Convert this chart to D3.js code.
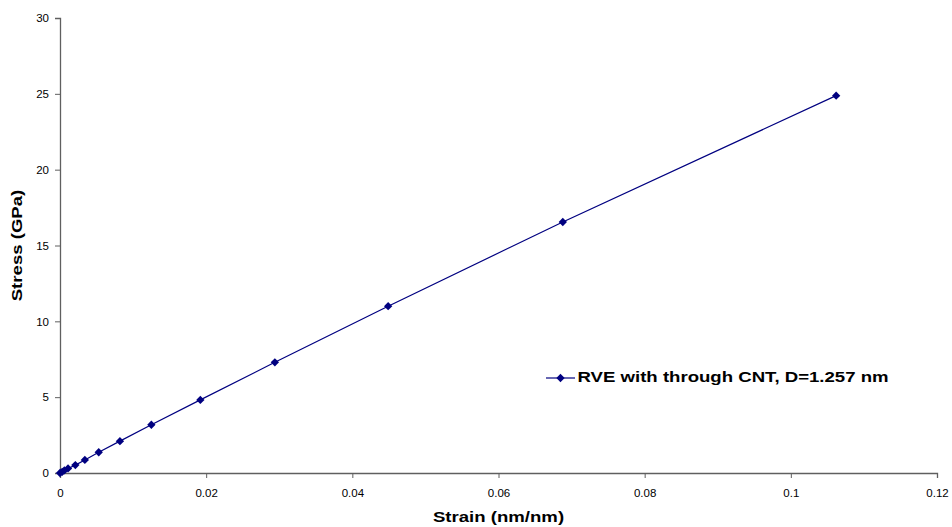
<!DOCTYPE html>
<html>
<head>
<meta charset="utf-8">
<script src="https://cdn.jsdelivr.net/npm/d3@7"></script>
<style>
  html, body { margin: 0; padding: 0; background: #fff; }
  svg { display: block; font-family: "Liberation Sans", Arial, sans-serif; }
</style>
</head>
<body>
<svg id="chart" width="952" height="527"></svg>
<script>
// Stress-strain response of the RVE
const strain = [0, 0.0003, 0.0006, 0.0011, 0.0021, 0.0034, 0.0053, 0.0082, 0.0125, 0.0192, 0.0294, 0.0449, 0.0688, 0.1062];
const stress = [0, 0.08, 0.17, 0.30, 0.52, 0.86, 1.37, 2.10, 3.18, 4.82, 7.30, 11.00, 16.55, 24.88];
const xTicks = [0, 0.02, 0.04, 0.06, 0.08, 0.1, 0.12];
const yTicks = [0, 5, 10, 15, 20, 25, 30];
const seriesName = "RVE with through CNT, D=1.257 nm";
const xTitle = "Strain (nm/nm)";
const yTitle = "Stress (GPa)";

const points = strain.map((s, i) => ({ x: s, y: stress[i] }));

const svg = d3.select("#chart");
const plotLeft = 60, plotRight = 937, plotTop = 18, plotBottom = 473;

const x = d3.scaleLinear().domain([0, 0.12]).range([plotLeft, plotRight]);
const y = d3.scaleLinear().domain([0, 30]).range([plotBottom, plotTop]);

const axisColor = "#5f5f5f";

const xAxis = svg.append("g")
  .attr("transform", `translate(0,${plotBottom})`)
  .call(d3.axisBottom(x).tickValues(xTicks).tickSize(5).tickPadding(11)
    .tickFormat(d => d3.format("~g")(d)));
const yAxis = svg.append("g")
  .attr("transform", `translate(${plotLeft},0)`)
  .call(d3.axisLeft(y).tickValues(yTicks).tickSize(5).tickPadding(6));

[xAxis, yAxis].forEach(g => {
  g.select(".domain").attr("stroke", axisColor).attr("stroke-width", 1.3);
  g.selectAll(".tick line").attr("stroke", axisColor);
  g.selectAll(".tick text").attr("fill", "#000").attr("font-size", 11.5)
    .attr("font-family", "'Liberation Sans', Arial, sans-serif");
});

const navy = "#000080";

svg.append("path")
  .datum(points)
  .attr("fill", "none")
  .attr("stroke", navy)
  .attr("stroke-width", 1.2)
  .attr("d", d3.line().x(d => x(d.x)).y(d => y(d.y)));

const diamond = d3.symbol().type(d3.symbolDiamond2).size(44);

svg.append("g").selectAll("path")
  .data(points)
  .join("path")
  .attr("transform", d => `translate(${x(d.x)},${y(d.y)})`)
  .attr("d", diamond)
  .attr("fill", navy);

// bold labels use a slightly widened face
const wide = 1.2;

// axis titles
svg.append("text")
  .attr("transform", `translate(${(plotLeft + plotRight) / 2},522) scale(${wide},1)`)
  .attr("text-anchor", "middle")
  .attr("font-size", 15.5).attr("font-weight", "bold")
  .text(xTitle);

svg.append("text")
  .attr("transform", `translate(22,${(plotTop + plotBottom) / 2}) rotate(-90) scale(${wide},1)`)
  .attr("text-anchor", "middle")
  .attr("font-size", 15.5).attr("font-weight", "bold")
  .text(yTitle);

// legend
const lg = svg.append("g").attr("transform", "translate(546,378)");
lg.append("line").attr("x1", 0).attr("x2", 29).attr("y1", 0).attr("y2", 0)
  .attr("stroke", navy).attr("stroke-width", 1.2);
lg.append("path").attr("transform", "translate(14.5,0)").attr("d", diamond).attr("fill", navy);
lg.append("text").attr("transform", `translate(31.5,4) scale(${wide},1)`)
  .attr("font-size", 15.5).attr("font-weight", "bold")
  .text(seriesName);
</script>
</body>
</html>
